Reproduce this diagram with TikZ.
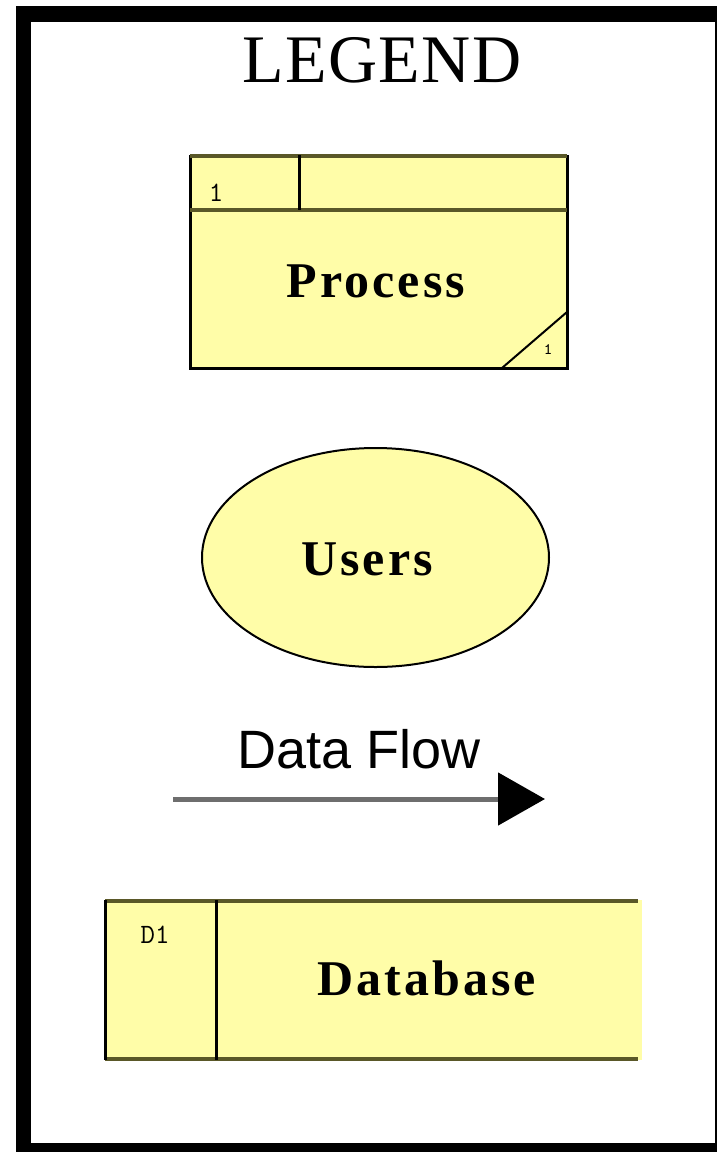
\documentclass[tikz,border=0pt]{standalone}
\usepackage{fontspec}
\setmainfont{Liberation Serif}
\newfontfamily\titlefont[LetterSpace=2]{Liberation Serif}
\newfontfamily\namefont[LetterSpace=6]{Liberation Serif}
\newfontfamily\flowfont{Liberation Sans}
\usetikzlibrary{arrows.meta}
\definecolor{dfdyellow}{RGB}{255,253,168}
\definecolor{dfdolive}{RGB}{90,88,40}
\definecolor{flowgray}{RGB}{110,110,110}
\begin{document}
\begin{tikzpicture}[x=0.5pt,y=-0.5pt,
    boxline/.style={line width=1.5pt,black},
    topline/.style={line width=2pt,dfdolive},
    boxname/.style={font=\namefont\bfseries\fontsize{25}{30}\selectfont,anchor=base},
    boxid/.style={font=\ttfamily\fontsize{14}{16}\selectfont\addfontfeatures{FakeBold=3},anchor=base},
    flowline/.style={line width=2.5pt,flowgray,-{Triangle[length=23.5pt,width=26pt,color=black]}}]
                    \useasboundingbox (0,0) rectangle (717,1152);
                    % frame
                    \fill [black] (16,6) rectangle (717,1152);
                    \fill [white] (31,22) rectangle (715,1143);
                    \node [font=\titlefont\fontsize{34}{40}\selectfont,anchor=base] (legend) at (382,82) {LEGEND};
                    % process
                    \fill [dfdyellow] (190,155) rectangle (567,368);
                    \draw [boxline] (190,155) -- (190,368) -- (567,368) -- (567,155);
                    \draw [topline] (190,156) -- (567,156);
                    \draw [topline] (190,210) -- (567,210);
                    \draw [boxline] (299,155) -- (299,210);
                    \draw [line width=1pt] (502,368) -- (567,312);
                    \node [boxid] (procid) at (216,201) {1};
                    \node [boxname] (procname) at (376,297) {Process};
                    \node [font=\ttfamily\fontsize{8}{9}\selectfont] (proccorner) at (548,350) {1};
                    % users
                    \filldraw [fill=dfdyellow,line width=1pt] (375.5,557.5) ellipse (173.5 and 109.5);
                    \node [boxname] (username) at (367,575) {Users};
                    % data flow
                    \node [font=\flowfont\fontsize{27}{32}\selectfont,anchor=base] (flowname) at (359,768) {Data Flow};
                    \coordinate (flowstart) at (173,799);
                    \coordinate (flowend) at (545,799);
                    \draw [flowline] (flowstart) -- (flowend);
                    % database
                    \fill [dfdyellow] (105,900) rectangle (642,1060);
                    \draw [topline] (105,901) -- (638,901);
                    \draw [topline] (105,1059) -- (638,1059);
                    \draw [boxline] (105,900) -- (105,1060);
                    \draw [boxline] (216,900) -- (216,1060);
                    \node [boxid] (storeid) at (155,943) {D1};
                    \node [boxname] (storename) at (427,995) {Database};
                \end{tikzpicture}
\end{document}
